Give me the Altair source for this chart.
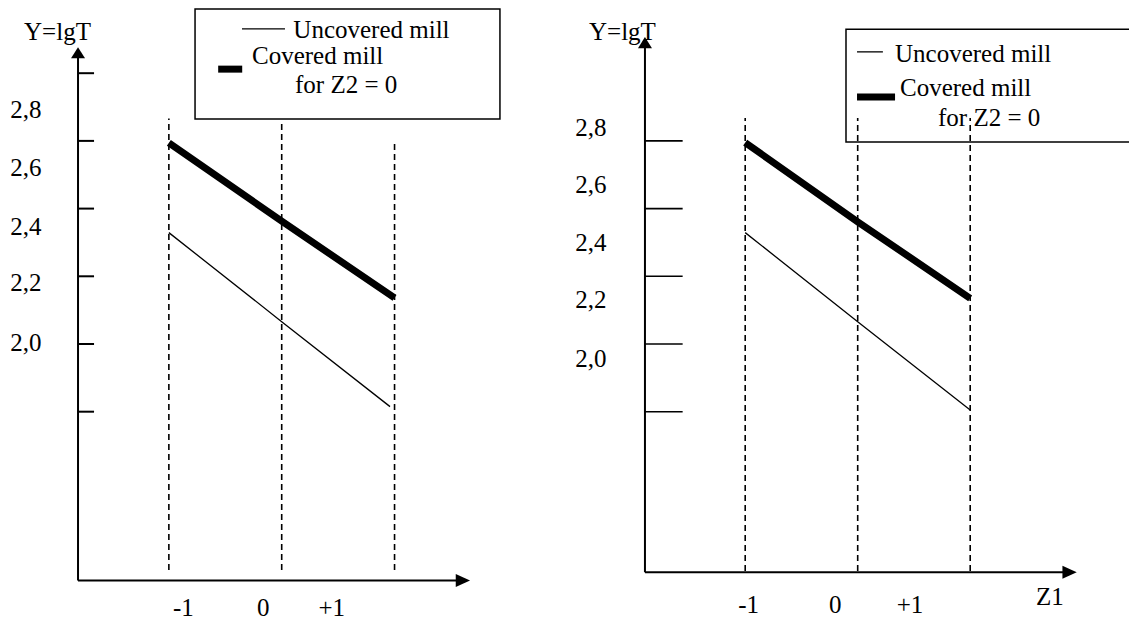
import altair as alt
import pandas as pd

FONT = "Liberation Serif"
FS = 25

# ------------------------------------------------------------------
# Values.  x is in Z1 units, y in lgT units.
# ------------------------------------------------------------------
Z_LEVELS = [-1, 0, 1]

# ---------- left panel ----------
L_COVERED_Z = [-1, 0, 1]
L_COVERED_Y = [2.594, 2.363, 2.136]
L_UNCOVERED_Z = [-1, 0, 0.96]
L_UNCOVERED_Y = [2.329, 2.066, 1.815]
L_DASH_TOP = [2.666, 2.662, 2.597]
L_DASH_BOTTOM = [1.332, 1.332, 1.332]
L_TICKS = [2.8, 2.6, 2.4, 2.2, 2.0, 1.8]
L_TICK_LABELS = ["2,8", "2,6", "2,4", "2,2", "2,0"]
L_TICK_LABEL_Y = [2.691, 2.520, 2.346, 2.180, 2.003]
L_X_LABELS = ["-1", "0", "+1"]
L_X_LABEL_Z = [-0.872, -0.163, 0.443]
L_X_LABEL_Y = [1.220, 1.220, 1.220]
L_AXIS_Z = -1.805       # position of the vertical axis
L_AXIS_Y = 1.301        # position of the horizontal axis
L_Y_TIP = 2.877
L_X_TIP = 1.669
L_TICK_END = -1.663
L_YLABEL = ["Y=lgT"]
L_YLABEL_Z = [-1.987]
L_YLABEL_Y = [2.922]
L_BOX = dict(z1=-0.768, z2=1.934, y1=2.665, y2=2.990)
L_LEG_TEXT = ["Uncovered mill", "Covered mill", "for Z2 = 0"]
L_LEG_TEXT_Z = [0.103, -0.263, 0.118]
L_LEG_TEXT_Y = [2.928, 2.852, 2.765]
L_LEG_THIN = dict(z1=-0.352, z2=0.029, y=2.931)
L_LEG_THICK = dict(z1=-0.563, z2=-0.350, y=2.812)

# ---------- right panel ----------
R_COVERED_Z = [-1, 0, 1]
R_COVERED_Y = [2.595, 2.361, 2.135]
R_UNCOVERED_Z = [-1, 0, 1]
R_UNCOVERED_Y = [2.329, 2.066, 1.805]
R_DASH_TOP = [2.668, 2.668, 2.668]
R_DASH_BOTTOM = [1.329, 1.329, 1.329]
R_TICKS = [2.6, 2.4, 2.2, 2.0, 1.8]
R_TICK_LABELS = ["2,8", "2,6", "2,4", "2,2", "2,0"]
R_TICK_LABEL_Y = [2.638, 2.470, 2.298, 2.130, 1.956]
R_X_LABELS = ["-1", "0", "+1", "Z1"]
R_X_LABEL_Z = [-0.970, -0.200, 0.465, 1.709]
R_X_LABEL_Y = [1.229, 1.229, 1.229, 1.254]
R_AXIS_Z = -1.891
R_AXIS_Y = 1.326
R_Y_TIP = 2.907
R_X_TIP = 1.947
R_TICK_END = -1.556
R_YLABEL = ["Y=lgT"]
R_YLABEL_Z = [-2.091]
R_YLABEL_Y = [2.922]
R_BOX = dict(z1=-0.104, z2=2.6, y1=2.597, y2=2.930)
R_LEG_TEXT = ["Uncovered mill", "Covered mill", "for Z2 = 0"]
R_LEG_TEXT_Z = [0.332, 0.376, 0.714]
R_LEG_TEXT_Y = [2.857, 2.756, 2.668]
R_LEG_THIN = dict(z1=-0.006, z2=0.224, y=2.863)
R_LEG_THICK = dict(z1=-0.006, z2=0.332, y=2.730)

# scale domains (one shared y scale, one x scale per panel)
Y_DOMAIN = [1.1787, 2.9926]
L_X_DOMAIN = [-2.4255, 7.5085]
R_X_DOMAIN = [-7.5529, 2.4116]

W, H = 1121, 614

UP_ARROW = "M0,0L-1,1.6L1,1.6Z"
RIGHT_ARROW = "M0,0L-2.2,-1L-2.2,1Z"


def panel(xdom, cov_z, cov_y, unc_z, unc_y, dash_top, dash_bot, ticks, tick_end,
          tick_labels, tick_label_y, tick_label_z, x_labels, x_label_z, x_label_y,
          axis_z, axis_y, y_tip, x_tip, ylab, ylab_z, ylab_y, box, leg_text,
          leg_z, leg_y, thin, thick, tick_w):
    xs = alt.Scale(domain=xdom, nice=False, zero=False)
    ys = alt.Scale(domain=Y_DOMAIN, nice=False, zero=False)

    def X(f="z"):
        return alt.X(f"{f}:Q", scale=xs, axis=None)

    def Y(f="v"):
        return alt.Y(f"{f}:Q", scale=ys, axis=None)

    layers = []

    # legend box
    box_df = pd.DataFrame({"z": [box["z1"]], "z2": [box["z2"]],
                           "v": [box["y1"]], "v2": [box["y2"]]})
    layers.append(alt.Chart(box_df).mark_rect(filled=False, stroke="black", strokeWidth=1.5)
                  .encode(x=X(), x2="z2:Q", y=Y(), y2="v2:Q"))

    # dashed guide lines
    dash_df = pd.DataFrame({"z": Z_LEVELS, "v": dash_bot, "v2": dash_top})
    layers.append(alt.Chart(dash_df).mark_rule(color="black", strokeWidth=1.6, strokeDash=[6, 4])
                  .encode(x=X(), y=Y(), y2="v2:Q"))

    # axes
    vax = pd.DataFrame({"z": [axis_z], "v": [axis_y], "v2": [y_tip - 0.02]})
    layers.append(alt.Chart(vax).mark_rule(color="black", strokeWidth=2)
                  .encode(x=X(), y=Y(), y2="v2:Q"))
    hax = pd.DataFrame({"z": [axis_z], "z2": [x_tip - 0.05], "v": [axis_y]})
    layers.append(alt.Chart(hax).mark_rule(color="black", strokeWidth=2)
                  .encode(x=X(), x2="z2:Q", y=Y()))
    up = pd.DataFrame({"z": [axis_z], "v": [y_tip]})
    layers.append(alt.Chart(up).mark_point(shape=UP_ARROW, filled=True, fill="black",
                                           size=196, opacity=1, strokeWidth=0)
                  .encode(x=X(), y=Y()))
    rt = pd.DataFrame({"z": [x_tip], "v": [axis_y]})
    layers.append(alt.Chart(rt).mark_point(shape=RIGHT_ARROW, filled=True, fill="black",
                                           size=169, opacity=1, strokeWidth=0)
                  .encode(x=X(), y=Y()))

    # tick marks
    tk = pd.DataFrame({"z": [axis_z] * len(ticks), "z2": [tick_end] * len(ticks), "v": ticks})
    layers.append(alt.Chart(tk).mark_rule(color="black", strokeWidth=tick_w)
                  .encode(x=X(), x2="z2:Q", y=Y()))

    # tick labels
    tl = pd.DataFrame({"z": [tick_label_z] * len(tick_labels), "v": tick_label_y,
                       "t": tick_labels})
    layers.append(alt.Chart(tl).mark_text(font=FONT, fontSize=FS, color="black",
                                          align="center", baseline="middle")
                  .encode(x=X(), y=Y(), text="t:N"))

    xl = pd.DataFrame({"z": x_label_z, "v": x_label_y, "t": x_labels})
    layers.append(alt.Chart(xl).mark_text(font=FONT, fontSize=FS, color="black",
                                          align="center", baseline="middle")
                  .encode(x=X(), y=Y(), text="t:N"))

    yl = pd.DataFrame({"z": ylab_z, "v": ylab_y, "t": ylab})
    layers.append(alt.Chart(yl).mark_text(font=FONT, fontSize=FS, color="black",
                                          align="center", baseline="middle")
                  .encode(x=X(), y=Y(), text="t:N"))

    # data lines
    unc = pd.DataFrame({"z": unc_z, "v": unc_y})
    layers.append(alt.Chart(unc).mark_line(color="black", strokeWidth=1.3)
                  .encode(x=X(), y=Y()))
    cov = pd.DataFrame({"z": cov_z, "v": cov_y})
    layers.append(alt.Chart(cov).mark_line(color="black", strokeWidth=7, strokeCap="butt")
                  .encode(x=X(), y=Y()))

    # legend contents
    th = pd.DataFrame({"z": [thin["z1"]], "z2": [thin["z2"]], "v": [thin["y"]]})
    layers.append(alt.Chart(th).mark_rule(color="black", strokeWidth=1.3)
                  .encode(x=X(), x2="z2:Q", y=Y()))
    tk2 = pd.DataFrame({"z": [thick["z1"]], "z2": [thick["z2"]], "v": [thick["y"]]})
    layers.append(alt.Chart(tk2).mark_rule(color="black", strokeWidth=7, strokeCap="butt")
                  .encode(x=X(), x2="z2:Q", y=Y()))
    lt = pd.DataFrame({"z": leg_z, "v": leg_y, "t": leg_text})
    layers.append(alt.Chart(lt).mark_text(font=FONT, fontSize=FS, color="black",
                                          align="left", baseline="middle")
                  .encode(x=X(), y=Y(), text="t:N"))
    return alt.layer(*layers)


left = panel(L_X_DOMAIN, L_COVERED_Z, L_COVERED_Y, L_UNCOVERED_Z, L_UNCOVERED_Y,
             L_DASH_TOP, L_DASH_BOTTOM, L_TICKS, L_TICK_END, L_TICK_LABELS,
             L_TICK_LABEL_Y, -2.266, L_X_LABELS, L_X_LABEL_Z, L_X_LABEL_Y,
             L_AXIS_Z, L_AXIS_Y, L_Y_TIP, L_X_TIP, L_YLABEL, L_YLABEL_Z, L_YLABEL_Y,
             L_BOX, L_LEG_TEXT, L_LEG_TEXT_Z, L_LEG_TEXT_Y, L_LEG_THIN, L_LEG_THICK, 2)

right = panel(R_X_DOMAIN, R_COVERED_Z, R_COVERED_Y, R_UNCOVERED_Z, R_UNCOVERED_Y,
              R_DASH_TOP, R_DASH_BOTTOM, R_TICKS, R_TICK_END, R_TICK_LABELS,
              R_TICK_LABEL_Y, -2.371, R_X_LABELS, R_X_LABEL_Z, R_X_LABEL_Y,
              R_AXIS_Z, R_AXIS_Y, R_Y_TIP, R_X_TIP, R_YLABEL, R_YLABEL_Z, R_YLABEL_Y,
              R_BOX, R_LEG_TEXT, R_LEG_TEXT_Z, R_LEG_TEXT_Y, R_LEG_THIN, R_LEG_THICK, 1.6)

chart = (
    alt.layer(left, right)
    .resolve_scale(x="independent")
    .properties(width=W, height=H, padding=0,
                autosize=alt.AutoSizeParams(type="none"), background="white")
    .configure_view(stroke=None)
)

chart.save("out.html", embed_options={"renderer": "svg", "actions": False})
